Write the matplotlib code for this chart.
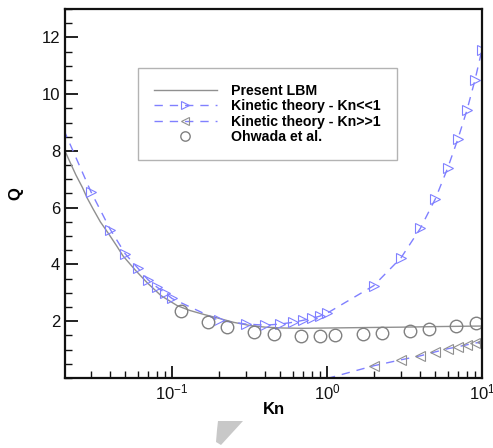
import matplotlib
matplotlib.use("Agg")
import matplotlib.pyplot as plt
from matplotlib.patches import Polygon
from matplotlib.ticker import LogLocator, MultipleLocator, NullFormatter

plt.rcParams['font.family'] = ['Liberation Sans', 'DejaVu Sans']
plt.rcParams['mathtext.default'] = 'regular'

# Present LBM
kn_lbm = [0.02, 0.022, 0.024, 0.0265, 0.0283, 0.031, 0.0345, 0.0388, 0.044, 0.0483,
          0.058, 0.069, 0.085, 0.108, 0.13, 0.16, 0.195, 0.25, 0.318, 0.4, 0.52,
          0.7, 1.0, 2.0, 3.0, 5.0, 10.0]
q_lbm = [8.1, 7.6, 7.15, 6.7, 6.35, 5.95, 5.5, 5.1, 4.65, 4.3,
         3.8, 3.36, 2.9, 2.55, 2.38, 2.24, 2.12, 1.96, 1.85, 1.79, 1.76,
         1.75, 1.76, 1.78, 1.79, 1.81, 1.83]

# Kinetic theory, Kn<<1
kn_small = [0.02, 0.03, 0.04, 0.05, 0.06, 0.07, 0.08, 0.09, 0.1,
            0.2, 0.3, 0.4, 0.5, 0.6, 0.7, 0.8, 0.9, 1.0,
            2.0, 3.0, 4.0, 5.0, 6.0, 7.0, 8.0, 9.0, 10.0]
q_small = [8.75, 6.56, 5.23, 4.37, 3.88, 3.46, 3.2, 3.0, 2.8,
           2.03, 1.9, 1.86, 1.9, 1.96, 2.03, 2.1, 2.18, 2.28,
           3.25, 4.23, 5.27, 6.31, 7.39, 8.43, 9.44, 10.49, 11.57]

# Kinetic theory, Kn>>1
kn_large = [1.0, 2.0, 3.0, 4.0, 5.0, 6.0, 7.0, 8.0, 9.0, 10.0]
q_large = [-0.02, 0.43, 0.64, 0.78, 0.92, 1.03, 1.1, 1.17, 1.23, 1.27]

# Ohwada et al.
kn_ohwada = [0.114, 0.17, 0.226, 0.339, 0.455, 0.68, 0.9, 1.13, 1.71, 2.26,
             3.43, 4.55, 6.8, 9.1]
q_ohwada = [2.35, 1.97, 1.79, 1.62, 1.55, 1.48, 1.48, 1.51, 1.55, 1.58,
            1.65, 1.72, 1.83, 1.93]

fig = plt.figure(figsize=(4.93, 4.48), dpi=100)
ax = fig.add_axes([0.1318, 0.1563, 0.8459, 0.8237])

blue = '#8080ff'
ax.plot(kn_lbm, q_lbm, color='#909090', lw=1.0, label='Present LBM')
ax.plot(kn_small, q_small, color=blue, lw=1.0, dashes=(6, 5), marker='>',
        ms=7.5, mfc='none', mec=blue, mew=0.8, markevery=slice(1, None),
        label='Kinetic theory - Kn<<1')
ax.plot(kn_large, q_large, color=blue, lw=1.0, dashes=(6, 5), marker='<',
        ms=7.5, mfc='none', mec='#909090', mew=0.8, markevery=slice(1, None),
        label='Kinetic theory - Kn>>1')
ax.plot(kn_ohwada, q_ohwada, ls='none', marker='o', ms=9, mfc='none',
        mec='#808080', mew=1.0, label='Ohwada et al.')

ax.set_xscale('log')
ax.set_xlim(0.0204, 10)
ax.set_ylim(0, 13)
ax.xaxis.set_major_locator(LogLocator(base=10, numticks=10))
ax.xaxis.set_minor_locator(LogLocator(base=10, subs=range(2, 10), numticks=10))
ax.xaxis.set_minor_formatter(NullFormatter())
ax.yaxis.set_major_locator(MultipleLocator(2))
ax.yaxis.set_minor_locator(MultipleLocator(0.5))
ax.set_yticks([2, 4, 6, 8, 10, 12])

ax.tick_params(which='both', direction='in', top=False, right=False,
               labelsize=12, width=1.3, colors='#111111')
ax.tick_params(which='major', length=9)
ax.tick_params(which='minor', length=5, width=1.0)
for s in ax.spines.values():
    s.set_linewidth(1.6)
    s.set_color('#111111')

ax.set_xlabel('Kn', fontsize=12, fontweight='bold')
ax.xaxis.set_label_coords(0.5, -0.065)
ax.set_ylabel('Q', fontsize=12, fontweight='bold', rotation=90)
ax.yaxis.set_label_coords(-0.1, 0.5)

leg = ax.legend(loc='upper left', bbox_to_anchor=(0.175, 0.84),
                prop={'weight': 'bold', 'size': 10.2}, frameon=True,
                fancybox=False, edgecolor='#a0a0a0', handlelength=4.4,
                handletextpad=1.0, labelspacing=0.08, borderpad=1.15,
                borderaxespad=0, markerscale=0.75)
leg.get_frame().set_linewidth(1.0)

# grey wedge below the axis
fig.patches.append(Polygon([(218, 27), (243, 27), (221, 3), (216, 6), (217, 18)],
                           closed=True, transform=None, facecolor='#c8c8c8',
                           edgecolor='none'))

fig.savefig('out.png', dpi=100)
